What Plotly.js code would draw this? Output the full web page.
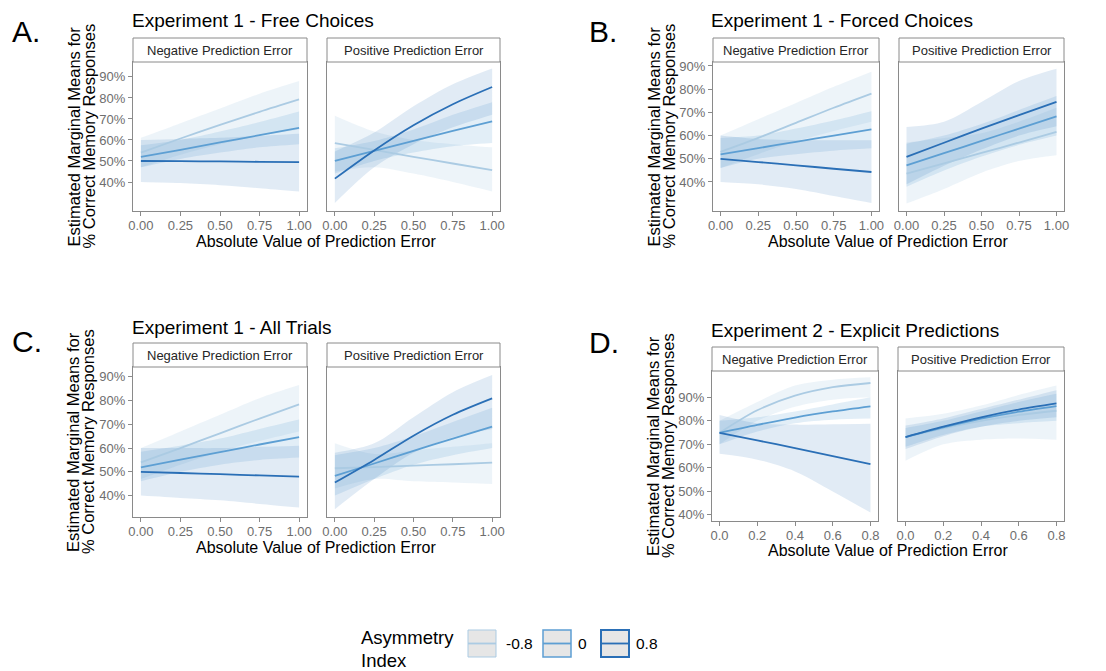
<!DOCTYPE html>
<html>
<head>
<meta charset="utf-8">
<script src="https://cdn.plot.ly/plotly-3.0.1.min.js"></script>
<style>
  html, body { margin: 0; padding: 0; background: #ffffff; }
  #chart { width: 1106px; height: 671px; }
</style>
</head>
<body>
<div id="chart"></div>
<script>
// ---------------------------------------------------------------
// Estimated marginal means (fit, lower / upper CI) by asymmetry index
// Rows of every block: asymmetry index -0.8, 0, 0.8
// ---------------------------------------------------------------
const asymmetryLevels = ['-0.8', '0', '0.8'];
const facetNames = ['Negative Prediction Error', 'Positive Prediction Error'];

// Prediction-error grid for Experiment 1 and Experiment 2
const peExp1 = [0, 0.25, 0.5, 0.75, 1];
const peExp2 = [0, 0.2, 0.4, 0.6, 0.8];

const tickPctVals = [0.4, 0.5, 0.6, 0.7, 0.8, 0.9];
const tickPctText = ['40%', '50%', '60%', '70%', '80%', '90%'];
const tickExp1 = ['0.00', '0.25', '0.50', '0.75', '1.00'];
const tickExp2 = ['0.0', '0.2', '0.4', '0.6', '0.8'];

// Experiment 1 - Free Choices
const freeNegFit = [[0.54, 0.607, 0.672, 0.734, 0.793], [0.52, 0.553, 0.588, 0.623, 0.658], [0.50, 0.499, 0.498, 0.496, 0.495]];
const freeNegLo  = [[0.47, 0.53, 0.58, 0.62, 0.65],     [0.47, 0.51, 0.54, 0.565, 0.58],    [0.40, 0.395, 0.385, 0.37, 0.355]];
const freeNegHi  = [[0.61, 0.68, 0.75, 0.82, 0.88],     [0.575, 0.60, 0.64, 0.685, 0.735],  [0.60, 0.605, 0.61, 0.62, 0.63]];
const freePosFit = [[0.585, 0.553, 0.52, 0.488, 0.456], [0.50, 0.548, 0.596, 0.643, 0.688], [0.416, 0.55, 0.67, 0.77, 0.852]];
const freePosLo  = [[0.45, 0.47, 0.44, 0.40, 0.355],    [0.44, 0.50, 0.54, 0.57, 0.585],    [0.30, 0.47, 0.58, 0.66, 0.72]];
const freePosHi  = [[0.715, 0.64, 0.60, 0.58, 0.565],   [0.56, 0.595, 0.65, 0.72, 0.78],    [0.545, 0.635, 0.76, 0.865, 0.94]];

// Experiment 1 - Forced Choices
const forcedNegFit = [[0.53, 0.59, 0.655, 0.72, 0.781], [0.519, 0.546, 0.573, 0.60, 0.627], [0.50, 0.486, 0.472, 0.457, 0.443]];
const forcedNegLo  = [[0.46, 0.52, 0.575, 0.62, 0.66],  [0.46, 0.50, 0.52, 0.535, 0.545],   [0.40, 0.39, 0.37, 0.34, 0.31]];
const forcedNegHi  = [[0.60, 0.67, 0.74, 0.81, 0.875],  [0.59, 0.60, 0.63, 0.665, 0.705],   [0.60, 0.585, 0.58, 0.58, 0.58]];
const forcedPosFit = [[0.436, 0.48, 0.525, 0.57, 0.616], [0.472, 0.524, 0.577, 0.63, 0.683], [0.508, 0.569, 0.63, 0.688, 0.745]];
const forcedPosLo  = [[0.307, 0.37, 0.44, 0.49, 0.515],  [0.38, 0.45, 0.51, 0.56, 0.60],     [0.39, 0.47, 0.54, 0.60, 0.64]];
const forcedPosHi  = [[0.57, 0.59, 0.61, 0.66, 0.72],    [0.565, 0.60, 0.65, 0.71, 0.77],    [0.637, 0.66, 0.745, 0.835, 0.888]];

// Experiment 1 - All Trials
const allNegFit = [[0.54, 0.60, 0.662, 0.724, 0.784], [0.519, 0.551, 0.583, 0.615, 0.646], [0.50, 0.495, 0.49, 0.485, 0.48]];
const allNegLo  = [[0.47, 0.53, 0.585, 0.63, 0.67],   [0.46, 0.50, 0.53, 0.55, 0.56],     [0.40, 0.39, 0.38, 0.365, 0.35]];
const allNegHi  = [[0.60, 0.67, 0.74, 0.81, 0.865],   [0.585, 0.61, 0.64, 0.68, 0.72],    [0.60, 0.60, 0.60, 0.605, 0.61]];
const allPosFit = [[0.515, 0.52, 0.526, 0.532, 0.539], [0.483, 0.535, 0.588, 0.64, 0.69], [0.455, 0.55, 0.652, 0.74, 0.809]];
const allPosLo  = [[0.43, 0.47, 0.46, 0.455, 0.449],   [0.40, 0.47, 0.53, 0.57, 0.60],    [0.343, 0.47, 0.58, 0.645, 0.68]];
const allPosHi  = [[0.62, 0.575, 0.59, 0.605, 0.62],   [0.57, 0.60, 0.65, 0.71, 0.77],    [0.58, 0.62, 0.73, 0.835, 0.907]];

// Experiment 2 - Explicit Predictions
const explNegFit = [[0.749, 0.845, 0.907, 0.943, 0.961], [0.749, 0.783, 0.814, 0.84, 0.862], [0.749, 0.717, 0.684, 0.65, 0.616]];
const explNegLo  = [[0.70, 0.80, 0.86, 0.89, 0.90],      [0.70, 0.755, 0.79, 0.805, 0.81],   [0.66, 0.635, 0.585, 0.50, 0.41]];
const explNegHi  = [[0.80, 0.88, 0.95, 0.975, 0.985],    [0.80, 0.815, 0.84, 0.87, 0.90],    [0.825, 0.79, 0.784, 0.786, 0.788]];
const explPosFit = [[0.731, 0.768, 0.80, 0.825, 0.843], [0.731, 0.772, 0.809, 0.839, 0.863], [0.731, 0.775, 0.815, 0.848, 0.874]];
const explPosLo  = [[0.63, 0.70, 0.72, 0.725, 0.72],     [0.69, 0.74, 0.775, 0.79, 0.80],    [0.68, 0.735, 0.775, 0.80, 0.815]];
const explPosHi  = [[0.81, 0.83, 0.865, 0.91, 0.95],     [0.77, 0.80, 0.84, 0.88, 0.915],    [0.78, 0.81, 0.85, 0.89, 0.93]];

// ---------------------------------------------------------------
// Page geometry (pixels) and styling
// ---------------------------------------------------------------
const W = 1106, H = 671;
const FONT = 'Liberation Sans, Arial, Helvetica, sans-serif';
const lineColors = ['#abcbe3', '#5d9fd3', '#2a6fb6'];
const ribbonColors = ['rgba(171,203,227,0.22)', 'rgba(93,159,211,0.18)', 'rgba(42,111,182,0.14)'];
const frameColor = '#8a8a8a';
const tickTextColor = '#6e6e6e';

const panels = [
  { letter: 'A.', title: 'Experiment 1 - Free Choices', x: peExp1, ticks: tickExp1,
    fit: [freeNegFit, freePosFit], lo: [freeNegLo, freePosLo], hi: [freeNegHi, freePosHi],
    cols: [[133, 307], [327, 500]], strip: [38, 62], plot: [62, 211],
    yRange: [0.262, 0.971], xRange: [-0.05, 1.05],
    letterPos: [10, 31], titlePos: [130, 21], yTitleX: [73, 88], xTitleY: 241 },
  { letter: 'B.', title: 'Experiment 1 - Forced Choices', x: peExp1, ticks: tickExp1,
    fit: [forcedNegFit, forcedPosFit], lo: [forcedNegLo, forcedPosLo], hi: [forcedNegHi, forcedPosHi],
    cols: [[713, 879], [899, 1064]], strip: [38, 62], plot: [62, 211],
    yRange: [0.275, 0.917], xRange: [-0.05, 1.05],
    letterPos: [587, 31], titlePos: [709, 21], yTitleX: [653, 668], xTitleY: 241 },
  { letter: 'C.', title: 'Experiment 1 - All Trials', x: peExp1, ticks: tickExp1,
    fit: [allNegFit, allPosFit], lo: [allNegLo, allPosLo], hi: [allNegHi, allPosHi],
    cols: [[133, 307], [327, 500]], strip: [343, 367], plot: [367, 517],
    yRange: [0.31, 0.941], xRange: [-0.05, 1.05],
    letterPos: [10, 341], titlePos: [130, 327], yTitleX: [73, 88], xTitleY: 547 },
  { letter: 'D.', title: 'Experiment 2 - Explicit Predictions', x: peExp2, ticks: tickExp2,
    fit: [explNegFit, explPosFit], lo: [explNegLo, explPosLo], hi: [explNegHi, explPosHi],
    cols: [[712, 878], [898, 1064]], strip: [347, 371], plot: [371, 521],
    yRange: [0.374, 1.012], xRange: [-0.04, 0.84],
    letterPos: [587, 342], titlePos: [709, 330], yTitleX: [653, 668], xTitleY: 550 }
];

const px = v => v / W;
const py = v => 1 - v / H;

const traces = [];
const layout = {
  width: W, height: H, autosize: false,
  margin: { l: 0, r: 0, t: 0, b: 0, pad: 0 },
  paper_bgcolor: '#ffffff', plot_bgcolor: 'rgba(0,0,0,0)',
  showlegend: false,
  font: { family: FONT, color: '#000000' },
  shapes: [], annotations: []
};

let axisIdx = 0;
panels.forEach(p => {
  for (let f = 0; f < 2; f++) {
    axisIdx += 1;
    const xa = axisIdx === 1 ? 'x' : 'x' + axisIdx;
    const ya = axisIdx === 1 ? 'y' : 'y' + axisIdx;
    const xKey = axisIdx === 1 ? 'xaxis' : 'xaxis' + axisIdx;
    const yKey = axisIdx === 1 ? 'yaxis' : 'yaxis' + axisIdx;
    const [c0, c1] = p.cols[f];

    layout[xKey] = {
      domain: [px(c0), px(c1)], anchor: ya, range: p.xRange,
      showgrid: false, zeroline: false,
      showline: true, mirror: true, linecolor: frameColor, linewidth: 1,
      ticks: 'outside', ticklen: 4, tickwidth: 1, tickcolor: frameColor,
      ticklabelstandoff: -2,
      tickvals: p.x, ticktext: p.ticks,
      tickfont: { family: FONT, size: 13, color: tickTextColor }
    };
    layout[yKey] = {
      domain: [py(p.plot[1]), py(p.plot[0])], anchor: xa, range: p.yRange,
      showgrid: false, zeroline: false,
      showline: true, mirror: true, linecolor: frameColor, linewidth: 1,
      ticks: f === 0 ? 'outside' : '', ticklen: 4, tickwidth: 1, tickcolor: frameColor,
      tickvals: tickPctVals, ticktext: tickPctText,
      showticklabels: f === 0,
      tickfont: { family: FONT, size: 13, color: tickTextColor }
    };

    // confidence ribbons
    for (let s = 0; s < 3; s++) {
      traces.push({
        type: 'scatter', mode: 'lines', xaxis: xa, yaxis: ya,
        x: p.x, y: p.lo[f][s], line: { width: 0, shape: 'spline', smoothing: 0.9, color: 'rgba(0,0,0,0)' },
        hoverinfo: 'skip', showlegend: false
      });
      traces.push({
        type: 'scatter', mode: 'lines', xaxis: xa, yaxis: ya,
        x: p.x, y: p.hi[f][s], line: { width: 0, shape: 'spline', smoothing: 0.9, color: 'rgba(0,0,0,0)' },
        fill: 'tonexty', fillcolor: ribbonColors[s],
        hoverinfo: 'skip', showlegend: false
      });
    }
    // fitted lines
    for (let s = 0; s < 3; s++) {
      traces.push({
        type: 'scatter', mode: 'lines', xaxis: xa, yaxis: ya,
        x: p.x, y: p.fit[f][s], name: asymmetryLevels[s],
        line: { width: 1.8, shape: 'spline', smoothing: 0.9, color: lineColors[s] },
        showlegend: false
      });
    }

    // facet strip
    layout.shapes.push({
      type: 'rect', xref: 'paper', yref: 'paper',
      x0: px(c0), x1: px(c1), y0: py(p.strip[1]), y1: py(p.strip[0]),
      fillcolor: '#ffffff', line: { color: frameColor, width: 1 }
    });
    layout.annotations.push({
      xref: 'paper', yref: 'paper', x: px((c0 + c1) / 2), y: py((p.strip[0] + p.strip[1]) / 2),
      xanchor: 'center', yanchor: 'middle', showarrow: false,
      text: facetNames[f], font: { family: FONT, size: 13, color: '#262626' }
    });
  }

  const plotMid = (p.plot[0] + p.plot[1]) / 2;
  // panel letter and title
  layout.annotations.push({
    xref: 'paper', yref: 'paper', x: px(p.letterPos[0]), y: py(p.letterPos[1]),
    xanchor: 'left', yanchor: 'middle', showarrow: false,
    text: p.letter, font: { family: FONT, size: 30, color: '#000000' }
  });
  layout.annotations.push({
    xref: 'paper', yref: 'paper', x: px(p.titlePos[0]), y: py(p.titlePos[1]),
    xanchor: 'left', yanchor: 'middle', showarrow: false,
    text: p.title, font: { family: FONT, size: 19, color: '#000000' }
  });
  // y-axis title, two rotated lines
  ['Estimated Marginal Means for', '% Correct Memory Responses'].forEach((t, i) => {
    layout.annotations.push({
      xref: 'paper', yref: 'paper', x: px(p.yTitleX[i]), y: py(plotMid),
      xanchor: 'center', yanchor: 'middle', showarrow: false, textangle: -90,
      text: t, font: { family: FONT, size: 16.5, color: '#000000' }
    });
  });
  // x-axis title
  layout.annotations.push({
    xref: 'paper', yref: 'paper', x: px((p.cols[0][0] + p.cols[1][1]) / 2), y: py(p.xTitleY),
    xanchor: 'center', yanchor: 'middle', showarrow: false,
    text: 'Absolute Value of Prediction Error', font: { family: FONT, size: 16, color: '#000000' }
  });
});

// legend: Asymmetry Index
layout.annotations.push({
  xref: 'paper', yref: 'paper', x: px(359), y: py(637.5), xanchor: 'left', yanchor: 'middle',
  showarrow: false, text: 'Asymmetry', font: { family: FONT, size: 18.5, color: '#000000' }
});
layout.annotations.push({
  xref: 'paper', yref: 'paper', x: px(359), y: py(660), xanchor: 'left', yanchor: 'middle',
  showarrow: false, text: 'Index', font: { family: FONT, size: 18.5, color: '#000000' }
});
const keyLeft = [468, 543, 601];
const labelLeft = [504, 576, 634];
const keyWidths = [1, 1.5, 2];
for (let s = 0; s < 3; s++) {
  const k0 = keyLeft[s], k1 = keyLeft[s] + 28;
  layout.shapes.push({
    type: 'rect', xref: 'paper', yref: 'paper',
    x0: px(k0), x1: px(k1), y0: py(657), y1: py(630),
    fillcolor: '#e6e6e6', line: { color: lineColors[s], width: keyWidths[s] }
  });
  layout.shapes.push({
    type: 'line', xref: 'paper', yref: 'paper',
    x0: px(k0), x1: px(k1), y0: py(643.5), y1: py(643.5),
    line: { color: lineColors[s], width: 1.8 }
  });
  layout.annotations.push({
    xref: 'paper', yref: 'paper', x: px(labelLeft[s]), y: py(643.5), xanchor: 'left', yanchor: 'middle',
    showarrow: false, text: asymmetryLevels[s], font: { family: FONT, size: 15.5, color: '#000000' }
  });
}

Plotly.newPlot('chart', traces, layout, { staticPlot: true, displayModeBar: false });
</script>
</body>
</html>
